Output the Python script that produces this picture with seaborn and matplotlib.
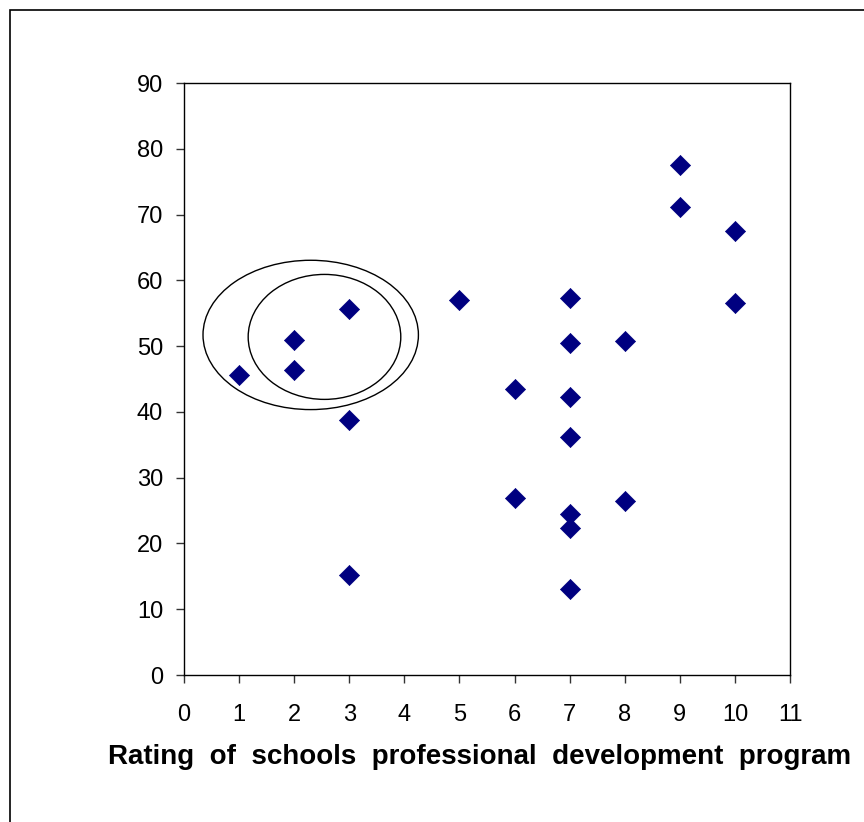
import numpy as np
import pandas as pd
import matplotlib
matplotlib.use("Agg")
import matplotlib.pyplot as plt
from matplotlib.patches import Ellipse, Rectangle
import seaborn as sns

# Rating of schools' professional development programme vs. score
rating = [1, 2, 2, 3, 3, 3, 5, 6, 6, 7, 7, 7, 7, 7, 7, 7, 8, 8, 9, 9, 10, 10]
score = [45.6, 50.9, 46.4, 55.7, 38.7, 15.2, 57.0, 43.5, 26.9,
         57.3, 50.4, 42.3, 36.2, 24.5, 22.4, 13.1, 50.8, 26.5,
         77.6, 71.1, 67.5, 56.5]

x_ticks = list(range(0, 12))
y_ticks = list(range(0, 100, 10))

# hand-drawn cluster rings (centre x, centre y, width, height)
rings = [(2.30, 51.7, 3.91, 22.7), (2.55, 51.4, 2.77, 19.0)]

df = pd.DataFrame({"rating": rating, "score": score})

sns.set_style("ticks", {"text.color": "black", "xtick.color": "black",
                        "ytick.color": "black", "axes.labelcolor": "black"})
plt.rcParams["font.family"] = ["Liberation Sans", "DejaVu Sans"]

fig = plt.figure(figsize=(8.64, 8.22), dpi=100)
ax = fig.add_axes([184 / 864, 1 - 675 / 822, 606 / 864, 592 / 822])

sns.scatterplot(data=df, x="rating", y="score", marker="D", s=105,
                color="#000080", edgecolor="#000080", linewidth=0.5,
                ax=ax, zorder=3, legend=False, clip_on=False)

for cx, cy, w, h in rings:
    ax.add_patch(Ellipse((cx, cy), w, h, fill=False, edgecolor="black", lw=1.0, zorder=2))

ax.set_xlim(0, 11)
ax.set_ylim(0, 90)
ax.set_xticks(x_ticks)
ax.set_yticks(y_ticks)
ax.tick_params(direction="out", length=6, width=1, color="#333333",
               labelsize=17, labelcolor="black")
ax.tick_params(axis="x", pad=15)
ax.tick_params(axis="y", pad=9)
for s in ax.spines.values():
    s.set_visible(True)
    s.set_color("black")
    s.set_linewidth(1)

ax.set_ylabel("")
ax.set_xlabel("Rating  of  schools  professional  development  program",
              fontsize=20, fontweight="bold", color="black", ha="left", va="center")
ax.xaxis.set_label_coords((108 - 184) / 606, (675 - 757) / 592)

# outer chart frame, cropped at right and bottom
fig.patches.append(Rectangle((10 / 864, -0.05), 1.2, 1 - 10 / 822 + 0.05,
                             transform=fig.transFigure, fill=False,
                             edgecolor="black", lw=1.2))

fig.savefig("out.png", dpi=100)
